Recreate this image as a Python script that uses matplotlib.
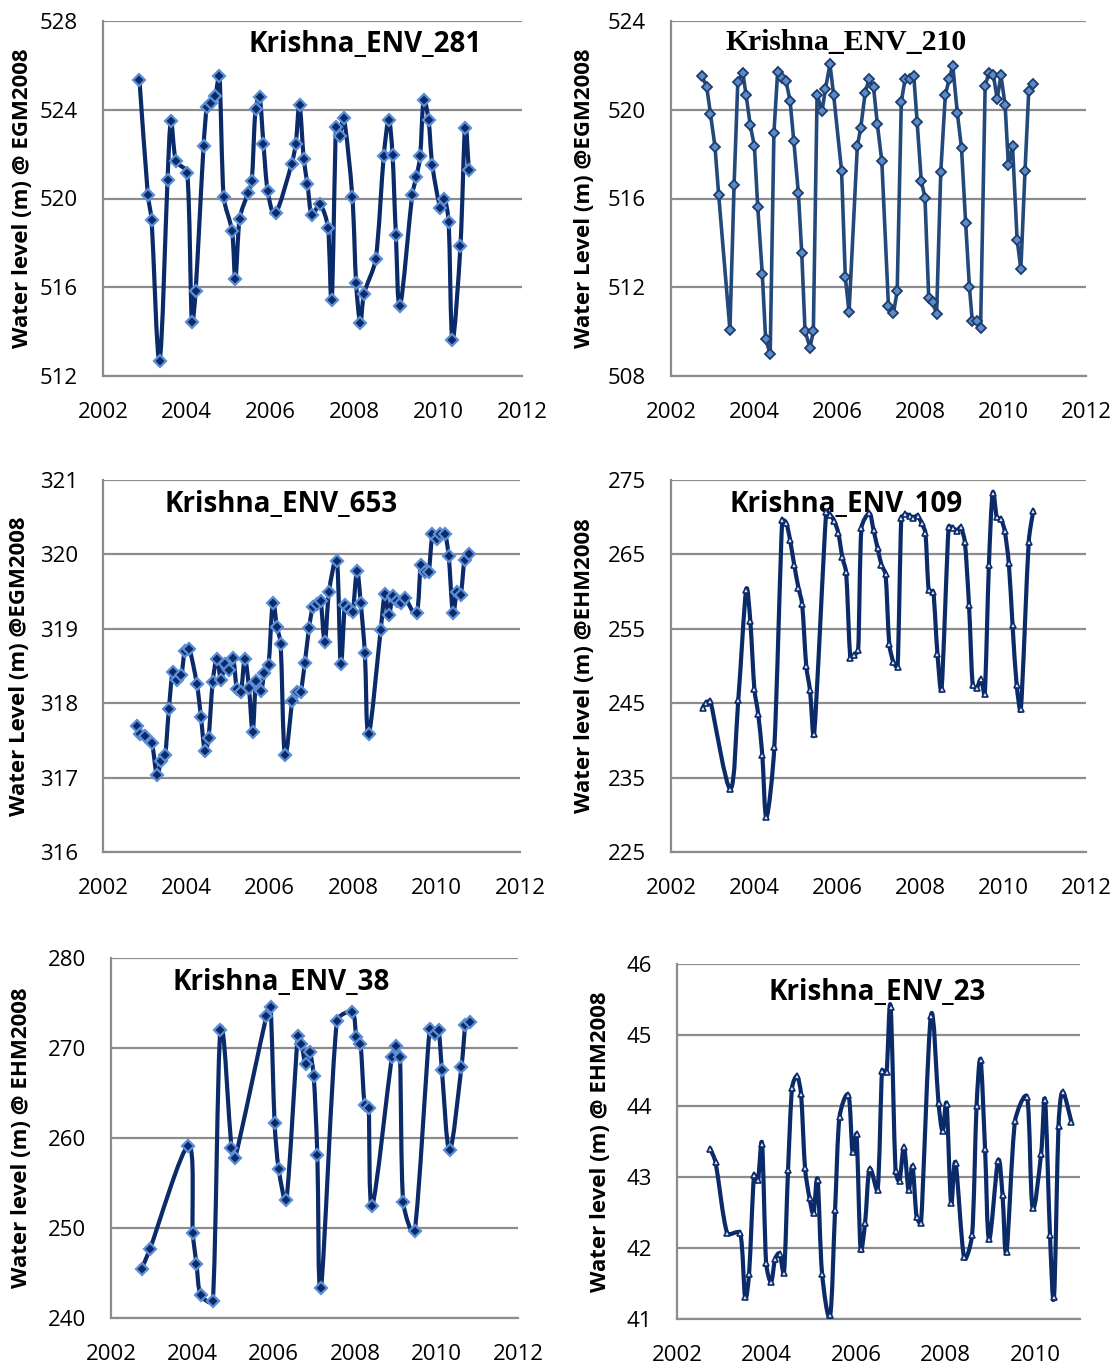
import matplotlib
matplotlib.use("Agg")
import matplotlib.pyplot as plt
import numpy as np
from matplotlib.path import Path
from matplotlib.patches import PathPatch

# Krishna_ENV_281
env281_t = [2002.87, 2003.07, 2003.16, 2003.35, 2003.54, 2003.62, 2003.74, 2004.01, 2004.12, 2004.21,
            2004.40, 2004.48, 2004.58, 2004.68, 2004.78, 2004.88, 2005.08, 2005.16, 2005.26, 2005.46,
            2005.55, 2005.64, 2005.74, 2005.83, 2005.93, 2006.12, 2006.50, 2006.60, 2006.69, 2006.79,
            2006.88, 2006.98, 2007.18, 2007.37, 2007.46, 2007.56, 2007.65, 2007.75, 2007.95, 2008.04,
            2008.14, 2008.23, 2008.51, 2008.70, 2008.82, 2008.91, 2008.99, 2009.09, 2009.38, 2009.48,
            2009.57, 2009.65, 2009.77, 2009.86, 2010.05, 2010.15, 2010.25, 2010.34, 2010.53, 2010.64,
            2010.73]
env281_h = [525.34, 520.18, 519.02, 512.68, 520.83, 523.49, 521.70, 521.16, 514.42, 515.82,
            522.36, 524.14, 524.32, 524.63, 525.53, 520.08, 518.53, 516.35, 519.08, 520.24,
            520.77, 524.03, 524.56, 522.45, 520.36, 519.34, 521.55, 522.45, 524.21, 521.80,
            520.65, 519.26, 519.73, 518.69, 515.44, 523.20, 522.83, 523.62, 520.09, 516.20,
            514.39, 515.71, 517.29, 521.91, 523.56, 521.97, 518.36, 515.16, 520.18, 520.98,
            521.91, 524.42, 523.52, 521.50, 519.59, 520.00, 518.93, 513.64, 517.85, 523.19,
            521.29]

# Krishna_ENV_210
env210_t = [2002.75, 2002.86, 2002.95, 2003.06, 2003.15, 2003.42, 2003.52, 2003.61, 2003.73, 2003.81,
            2003.91, 2004.01, 2004.09, 2004.20, 2004.28, 2004.39, 2004.48, 2004.57, 2004.68, 2004.77,
            2004.87, 2004.96, 2005.07, 2005.15, 2005.23, 2005.35, 2005.43, 2005.52, 2005.64, 2005.72,
            2005.83, 2005.92, 2006.11, 2006.20, 2006.29, 2006.49, 2006.57, 2006.68, 2006.77, 2006.88,
            2006.97, 2007.08, 2007.24, 2007.36, 2007.45, 2007.55, 2007.64, 2007.75, 2007.85, 2007.93,
            2008.03, 2008.12, 2008.21, 2008.31, 2008.40, 2008.50, 2008.61, 2008.70, 2008.79, 2008.90,
            2009.00, 2009.10, 2009.19, 2009.26, 2009.37, 2009.46, 2009.57, 2009.66, 2009.77, 2009.86,
            2009.95, 2010.05, 2010.13, 2010.23, 2010.34, 2010.43, 2010.53, 2010.62, 2010.73]
env210_h = [521.50, 521.04, 519.83, 518.33, 516.14, 510.08, 516.60, 521.26, 521.67, 520.65,
            519.31, 518.35, 515.62, 512.59, 509.68, 508.98, 518.96, 521.71, 521.44, 521.31,
            520.39, 518.57, 516.23, 513.56, 510.02, 509.28, 510.02, 520.68, 519.94, 520.92,
            522.06, 520.65, 517.25, 512.47, 510.87, 518.36, 519.16, 520.77, 521.38, 521.02,
            519.38, 517.68, 511.14, 510.83, 511.82, 520.36, 521.38, 521.37, 521.53, 519.47,
            516.81, 516.03, 511.53, 511.32, 510.78, 517.19, 520.65, 521.37, 521.98, 519.85,
            518.27, 514.90, 512.03, 510.47, 510.50, 510.17, 521.07, 521.67, 521.55, 520.48,
            521.55, 520.23, 517.49, 518.36, 514.15, 512.81, 517.22, 520.84, 521.16]

# Krishna_ENV_653
env653_t = [2002.81, 2002.89, 2003.00, 2003.17, 2003.29, 2003.39, 2003.49, 2003.58, 2003.67, 2003.77,
            2003.88, 2003.96, 2004.07, 2004.25, 2004.35, 2004.44, 2004.53, 2004.63, 2004.73, 2004.83,
            2004.92, 2005.02, 2005.12, 2005.21, 2005.31, 2005.40, 2005.50, 2005.59, 2005.67, 2005.79,
            2005.87, 2005.97, 2006.07, 2006.17, 2006.26, 2006.36, 2006.54, 2006.65, 2006.74, 2006.84,
            2006.94, 2007.03, 2007.13, 2007.22, 2007.32, 2007.42, 2007.61, 2007.70, 2007.80, 2007.89,
            2007.99, 2008.09, 2008.18, 2008.28, 2008.37, 2008.66, 2008.76, 2008.85, 2008.95, 2009.05,
            2009.14, 2009.24, 2009.52, 2009.62, 2009.72, 2009.81, 2009.90, 2010.00, 2010.09, 2010.20,
            2010.29, 2010.39, 2010.48, 2010.58, 2010.67, 2010.77]
env653_h = [317.69, 317.58, 317.56, 317.47, 317.03, 317.22, 317.30, 317.92, 318.42, 318.31,
            318.38, 318.70, 318.73, 318.26, 317.81, 317.36, 317.53, 318.28, 318.60, 318.31,
            318.53, 318.44, 318.61, 318.19, 318.15, 318.60, 318.21, 317.61, 318.30, 318.17,
            318.40, 318.51, 319.35, 319.03, 318.80, 317.31, 318.03, 318.15, 318.15, 318.54,
            319.01, 319.29, 319.34, 319.38, 318.82, 319.50, 319.91, 318.53, 319.32, 319.26,
            319.23, 319.78, 319.35, 318.67, 317.58, 318.99, 319.47, 319.18, 319.44, 319.37,
            319.35, 319.42, 319.21, 319.86, 319.76, 319.76, 320.27, 320.21, 320.27, 320.28,
            319.98, 319.21, 319.49, 319.46, 319.93, 320.01]

# Krishna_ENV_109
env109_t = [2002.76, 2002.85, 2002.95, 2003.43, 2003.62, 2003.81, 2003.91, 2004.01, 2004.10, 2004.20,
            2004.30, 2004.49, 2004.68, 2004.78, 2004.87, 2004.97, 2005.07, 2005.16, 2005.26, 2005.35,
            2005.45, 2005.74, 2005.84, 2005.93, 2006.03, 2006.13, 2006.22, 2006.32, 2006.41, 2006.51,
            2006.59, 2006.78, 2006.88, 2006.98, 2007.07, 2007.17, 2007.26, 2007.36, 2007.46, 2007.55,
            2007.65, 2007.75, 2007.84, 2007.94, 2008.04, 2008.13, 2008.21, 2008.32, 2008.42, 2008.52,
            2008.69, 2008.79, 2008.89, 2008.98, 2009.08, 2009.18, 2009.27, 2009.37, 2009.47, 2009.56,
            2009.66, 2009.75, 2009.85, 2009.95, 2010.04, 2010.14, 2010.23, 2010.33, 2010.43, 2010.62,
            2010.73]
env109_h = [244.35, 245.06, 245.24, 233.48, 245.38, 260.19, 256.06, 246.86, 243.58, 238.06,
            229.67, 239.09, 269.61, 269.17, 266.92, 263.55, 260.55, 258.30, 249.96, 246.72,
            240.89, 270.74, 270.29, 269.53, 267.91, 264.59, 262.57, 251.12, 251.44, 252.11,
            268.58, 270.51, 268.27, 265.80, 263.64, 262.30, 252.92, 250.49, 249.87, 269.84,
            270.38, 270.20, 269.84, 270.20, 269.17, 267.91, 260.19, 259.96, 251.66, 246.95,
            268.72, 268.58, 268.13, 268.63, 266.70, 258.26, 247.40, 247.08, 248.20, 246.18,
            263.55, 273.20, 269.97, 269.75, 268.18, 263.78, 255.48, 247.40, 244.16, 266.70,
            270.87]

# Krishna_ENV_38
env38_t = [2002.75, 2002.96, 2003.90, 2004.01, 2004.10, 2004.20, 2004.50, 2004.69, 2004.96, 2005.05,
           2005.82, 2005.92, 2006.02, 2006.12, 2006.31, 2006.59, 2006.68, 2006.78, 2006.88, 2006.98,
           2007.07, 2007.16, 2007.55, 2007.93, 2008.03, 2008.13, 2008.23, 2008.33, 2008.42, 2008.90,
           2009.00, 2009.10, 2009.18, 2009.46, 2009.83, 2009.95, 2010.05, 2010.13, 2010.32, 2010.61,
           2010.71, 2010.81]
env38_h = [245.44, 247.70, 259.15, 249.44, 246.00, 242.59, 241.85, 272.00, 258.85, 257.78,
           273.59, 274.59, 261.67, 256.56, 253.15, 271.37, 270.48, 268.22, 269.56, 266.89,
           258.11, 243.33, 272.96, 273.96, 271.22, 270.48, 263.70, 263.33, 252.48, 269.00,
           270.19, 269.00, 252.85, 249.63, 272.11, 271.59, 272.00, 267.59, 258.63, 267.89,
           272.59, 272.93]

# Krishna_ENV_23
env23_t = [2002.74, 2002.86, 2003.12, 2003.41, 2003.52, 2003.61, 2003.72, 2003.81, 2003.90, 2003.99,
           2004.10, 2004.19, 2004.29, 2004.39, 2004.48, 2004.57, 2004.68, 2004.77, 2004.86, 2004.96,
           2005.05, 2005.14, 2005.24, 2005.42, 2005.53, 2005.63, 2005.83, 2005.92, 2006.01, 2006.10,
           2006.20, 2006.30, 2006.48, 2006.58, 2006.68, 2006.77, 2006.88, 2006.97, 2007.07, 2007.17,
           2007.26, 2007.35, 2007.45, 2007.67, 2007.84, 2007.93, 2008.02, 2008.12, 2008.22, 2008.41,
           2008.59, 2008.69, 2008.78, 2008.88, 2008.97, 2009.17, 2009.27, 2009.36, 2009.55, 2009.82,
           2009.94, 2010.13, 2010.22, 2010.33, 2010.42, 2010.52, 2010.61, 2010.81]
env23_h = [43.40, 43.21, 42.21, 42.21, 41.31, 41.64, 43.03, 42.96, 43.47, 41.79,
           41.52, 41.84, 41.92, 41.65, 43.10, 44.26, 44.42, 44.17, 43.12, 42.70,
           42.49, 42.96, 41.64, 41.05, 42.53, 43.85, 44.15, 43.35, 43.60, 41.98,
           42.35, 43.11, 42.82, 44.50, 44.48, 45.40, 43.09, 42.95, 43.42, 42.82,
           43.15, 42.44, 42.35, 45.27, 44.04, 43.65, 44.03, 42.64, 43.20, 41.87,
           42.18, 44.00, 44.65, 43.39, 42.12, 43.23, 42.74, 41.95, 43.79, 44.12,
           42.57, 43.32, 44.08, 42.18, 41.31, 43.72, 44.20, 43.77]

W, H = 1117, 1367
NAVY = "#0b2a6a"
GRID = "#8c8c8c"
SANS = "Open Sans"


def _smooth_path(ax, x, y, k=1 / 3.0):
    # Catmull-Rom style Bezier; a handle never gets longer than a third
    # of its own segment on screen, so short steps do not overshoot
    pos = ax.get_position()
    x0, x1 = ax.get_xlim()
    y0, y1 = ax.get_ylim()
    sx = pos.width * W / (x1 - x0)
    sy = pos.height * H / (y1 - y0)
    pts = np.column_stack([np.asarray(x) * sx, np.asarray(y) * sy])
    n = len(pts)
    tang = np.array([(pts[min(i + 1, n - 1)] - pts[max(i - 1, 0)]) / 6.0
                     for i in range(n)])
    verts = [pts[0]]
    codes = [Path.MOVETO]
    for i in range(n - 1):
        p1, p2 = pts[i], pts[i + 1]
        cap = np.hypot(*(p2 - p1)) * k
        handles = []
        for tv in (tang[i], tang[i + 1]):
            ln = np.hypot(*tv)
            handles.append(tv if ln <= cap else tv * cap / ln)
        verts += [p1 + handles[0], p2 - handles[1], p2]
        codes += [Path.CURVE4] * 3
    verts = np.array(verts) / [sx, sy]
    return Path(verts, codes)


def _panel(fig, box, ylim, ystep, xlim, xticks):
    l, t, r, b = box
    ax = fig.add_axes([l / W, 1 - b / H, (r - l) / W, (b - t) / H])
    ax.set_xlim(*xlim)
    ax.set_ylim(*ylim)
    ax.set_yticks(np.arange(ylim[0], ylim[1] + 0.01, ystep))
    ax.set_xticks(xticks)
    ax.set_axisbelow(True)
    ax.yaxis.grid(True, color=GRID, lw=1.6)
    for s in ("top", "right"):
        ax.spines[s].set_visible(False)
    for s in ("left", "bottom"):
        ax.spines[s].set_color(GRID)
        ax.spines[s].set_linewidth(1.6)
    ax.tick_params(axis="y", length=0, pad=18, labelsize=16)
    ax.tick_params(axis="x", length=0, pad=18.5, labelsize=16)
    for lab in ax.get_xticklabels() + ax.get_yticklabels():
        lab.set_family(SANS)
    return ax


def _ylabel(fig, ax, x_px, text):
    pos = ax.get_position()
    fig.text(x_px / W, pos.y0 + pos.height / 2, text, rotation=90,
             ha="center", va="center", fontsize=16, fontweight="bold",
             family=SANS)


def _title(ax, x, y, text, family=SANS, size=20):
    ax.text(x, y, text, transform=ax.transAxes, ha="center", va="center",
            fontsize=size, fontweight="bold", family=family, zorder=1)


def _series(ax, t, h, smooth=True, color=NAVY, lw=3, marker="D", ms=6,
            mfc=NAVY, mec="#5b8ed6", mew=1.6):
    if smooth:
        ax.add_patch(PathPatch(_smooth_path(ax, t, h), facecolor="none",
                               edgecolor=color, lw=lw, zorder=3,
                               capstyle="round", joinstyle="round"))
    else:
        ax.plot(t, h, color=color, lw=lw, zorder=3, solid_joinstyle="round")
    ax.plot(t, h, ls="none", marker=marker, ms=ms, mfc=mfc, mec=mec,
            mew=mew, zorder=4)


fig = plt.figure(figsize=(W / 100, H / 100), dpi=100)
years = [2002, 2004, 2006, 2008, 2010, 2012]

ax1 = _panel(fig, (103, 21, 522, 376), (512, 528), 4, (2002, 2012), years)
_series(ax1, env281_t, env281_h)
_title(ax1, 0.626, 0.935, "Krishna_ENV_281")
_ylabel(fig, ax1, 23, "Water level (m) @ EGM2008")

ax2 = _panel(fig, (671, 21, 1086, 376), (508, 524), 4, (2002, 2012), years)
_series(ax2, env210_t, env210_h, smooth=False, color="#23497c", lw=2.6,
        ms=5.5, mfc="#5a8ccc", mec="#1f3c6a", mew=1.3)
_title(ax2, 0.422, 0.939, "Krishna_ENV_210", family="Liberation Serif", size=21.4)
_ylabel(fig, ax2, 585, "Water Level (m) @EGM2008")

ax3 = _panel(fig, (103, 480, 520, 852), (316, 321), 1, (2002, 2012), years)
_series(ax3, env653_t, env653_h)
_title(ax3, 0.428, 0.935, "Krishna_ENV_653")
_ylabel(fig, ax3, 20, "Water Level (m) @EGM2008")

ax4 = _panel(fig, (671, 480, 1086, 852), (225, 275), 10, (2002, 2012), years)
_series(ax4, env109_t, env109_h, marker="^", ms=5, mfc="#dfe6f2",
        mec=NAVY, mew=1.2)
_title(ax4, 0.422, 0.935, "Krishna_ENV_109")
_ylabel(fig, ax4, 585, "Water level (m) @EHM2008")

ax5 = _panel(fig, (111, 958, 518, 1318), (240, 280), 10, (2002, 2012), years)
_series(ax5, env38_t, env38_h)
_title(ax5, 0.418, 0.931, "Krishna_ENV_38")
_ylabel(fig, ax5, 22, "Water level (m) @ EHM2008")

ax6 = _panel(fig, (677, 964, 1080, 1319), (41, 46), 1, (2002, 2011), years[:-1])
_series(ax6, env23_t, env23_h, marker="^", ms=5, mfc="#dfe6f2",
        mec=NAVY, mew=1.2)
_title(ax6, 0.496, 0.921, "Krishna_ENV_23")
_ylabel(fig, ax6, 600, "Water level (m) @ EHM2008")

fig.savefig("out.png", dpi=100)
